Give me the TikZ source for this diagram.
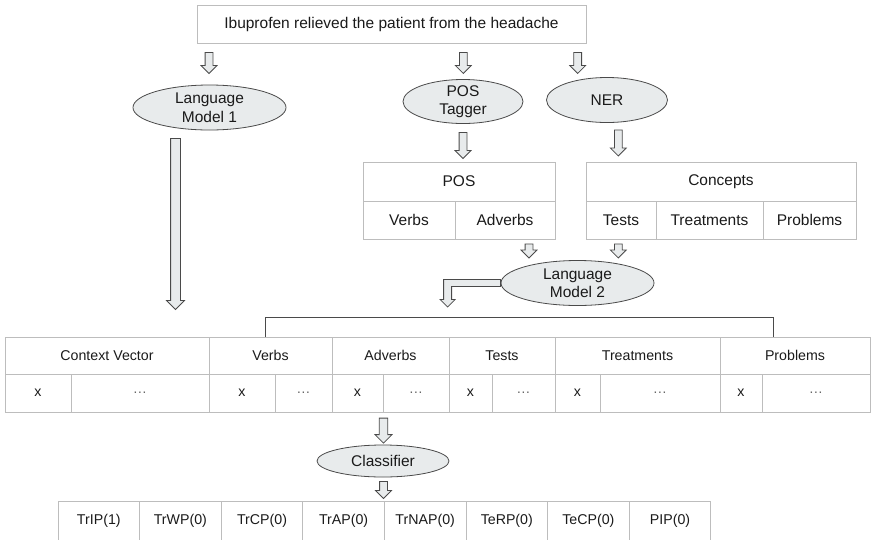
\documentclass[tikz,border=0pt]{standalone}
\usepackage{fontspec}
\setmainfont{Liberation Sans}
\usepackage{xcolor}
\usepackage{tikz}
\usetikzlibrary{calc,positioning,shapes.geometric,shapes.arrows}
\definecolor{figLine}{HTML}{BDBDBD}
\definecolor{figDark}{HTML}{4A4A4A}
\definecolor{figFill}{HTML}{E8EBEC}
\definecolor{figText}{HTML}{1A1A1A}
\definecolor{figDots}{HTML}{666666}

\begin{document}
\begin{tikzpicture}[
  x=1pt, y=-1pt,
  every node/.style={font=\fontsize{15.5}{18.5}\selectfont, text=figText},
  cell/.style={
    draw=figLine, line width=1pt, inner sep=0pt, outer sep=0pt,
    minimum height=38pt,
  },
  vcell/.style={cell, font=\fontsize{14.2}{16}\selectfont},
  dotcell/.style={vcell, text=figDots},
  model/.style={
    ellipse, draw=figDark, fill=figFill, line width=0.8pt,
    align=center, inner xsep=0pt, inner ysep=-3pt,
  },
  flow/.style={
    single arrow, draw=figDark, fill=figFill, line width=0.8pt,
    rotate=-90, inner sep=3.5pt, single arrow tip angle=90,
    single arrow head extend=4pt, minimum width=15pt,
  },
  bracket/.style={draw=figDark, line width=1pt},
]
\useasboundingbox (0,0) rectangle (871,539);

% === Input sentence ===
\node[cell, minimum width=389pt] (sentence) at (391.5, 24)
  {Ibuprofen relieved the patient from the headache};

% === Models ===
\node[model, minimum width=153pt, minimum height=45pt] (lmone) at (209.5, 107.5) {Language\\Model 1};
\node[model, minimum width=120pt, minimum height=44pt] (tagger) at (463, 101.5) {POS\\Tagger};
\node[model, minimum width=121pt, minimum height=45pt] (ner) at (607, 100) {NER};
\node[model, minimum width=153pt, minimum height=45pt] (lmtwo) at (577.5, 283) {Language\\Model 2};
\node[model, minimum width=132pt, minimum height=32pt] (classifier) at (383, 461) {Classifier};

% === POS table ===
\node[cell, minimum width=192pt, minimum height=39pt] (pos) at (459, 181.5) {POS};
\node[cell, minimum width=92pt] (posverbs) at (409, 220) {Verbs};
\node[cell, minimum width=100pt] (posadverbs) at (505, 220) {Adverbs};

% === Concepts table ===
\node[cell, minimum width=270pt, minimum height=39pt] (concepts) at (721, 181.5) {Concepts};
\node[cell, minimum width=70pt] (tests) at (621, 220) {Tests};
\node[cell, minimum width=107pt] (treatments) at (709.5, 220) {Treatments};
\node[cell, minimum width=93pt] (problems) at (809.5, 220) {Problems};

% === Feature vector ===
\node[vcell, minimum width=204pt, minimum height=37pt] (vcontext) at (107, 355.5) {Context Vector};
\node[vcell, minimum width=123pt, minimum height=37pt] (vverbs) at (270.5, 355.5) {Verbs};
\node[vcell, minimum width=117pt, minimum height=37pt] (vadverbs) at (390.5, 355.5) {Adverbs};
\node[vcell, minimum width=106pt, minimum height=37pt] (vtests) at (502, 355.5) {Tests};
\node[vcell, minimum width=165pt, minimum height=37pt] (vtreat) at (637.5, 355.5) {Treatments};
\node[vcell, minimum width=150pt, minimum height=37pt] (vprob) at (795, 355.5) {Problems};

\node[vcell, minimum width=66pt] (xcontext) at (38, 393) {x};
\node[dotcell, minimum width=138pt] (dcontext) at (140, 393) {…};
\node[vcell, minimum width=66pt] (xverbs) at (242, 393) {x};
\node[dotcell, minimum width=57pt] (dverbs) at (303.5, 393) {…};
\node[vcell, minimum width=51pt] (xadverbs) at (357.5, 393) {x};
\node[dotcell, minimum width=66pt] (dadverbs) at (416, 393) {…};
\node[vcell, minimum width=43pt] (xtests) at (470.5, 393) {x};
\node[dotcell, minimum width=63pt] (dtests) at (523.5, 393) {…};
\node[vcell, minimum width=45pt] (xtreat) at (577.5, 393) {x};
\node[dotcell, minimum width=120pt] (dtreat) at (660, 393) {…};
\node[vcell, minimum width=42pt] (xprob) at (741, 393) {x};
\node[dotcell, minimum width=108pt] (dprob) at (816, 393) {…};

% === Output labels ===
\foreach \lbl [count=\i] in {TrIP(1), TrWP(0), TrCP(0), TrAP(0), TrNAP(0), TeRP(0), TeCP(0), PIP(0)}
  \node[vcell, minimum width=81.6pt, minimum height=39pt] (out\i) at ({98.8+81.6*(\i-1)}, 521) {\lbl};

% === Block arrows ===
\node[flow, minimum height=21pt] (tolmone) at (209, 61) {};
\node[flow, minimum height=21pt] (totagger) at (463.3, 61) {};
\node[flow, minimum height=21pt] (toner) at (577.7, 61) {};
\node[flow, minimum height=171pt, inner sep=4.5pt, minimum width=17pt] (tovector) at (175.5, 221.5) {};
\node[flow, minimum height=26pt] (topos) at (463, 143.5) {};
\node[flow, minimum height=26pt] (toconcepts) at (618.3, 141) {};
\node[flow, minimum height=14pt] (posinto) at (529, 249) {};
\node[flow, minimum height=14pt] (conceptsinto) at (618.3, 249) {};
\node[flow, minimum height=25pt, minimum width=17pt] (toclassifier) at (383.5, 428.5) {};
\node[flow, minimum height=17pt] (toout) at (383.5, 488) {};

% elbow arrow out of Language Model 2
\filldraw[draw=figDark, fill=figFill, line width=0.8pt, line join=miter]
  ([yshift=3.5pt]lmtwo.west) -- ++(-57,0) -- ++(0,20) -- ++(-3.5,0)
  -- ++(7.5,7.5) -- ++(7.5,-7.5) -- ++(-3.5,0) -- ++(0,-13)
  -- ([yshift=-3.5pt]lmtwo.west) -- cycle;

% bracket over the vector
\coordinate (brleft) at (265, 337);
\coordinate (brright) at (773, 337);
\draw[bracket] (brleft) -- ++(0,-20) -| (brright);

\end{tikzpicture}
\end{document}
